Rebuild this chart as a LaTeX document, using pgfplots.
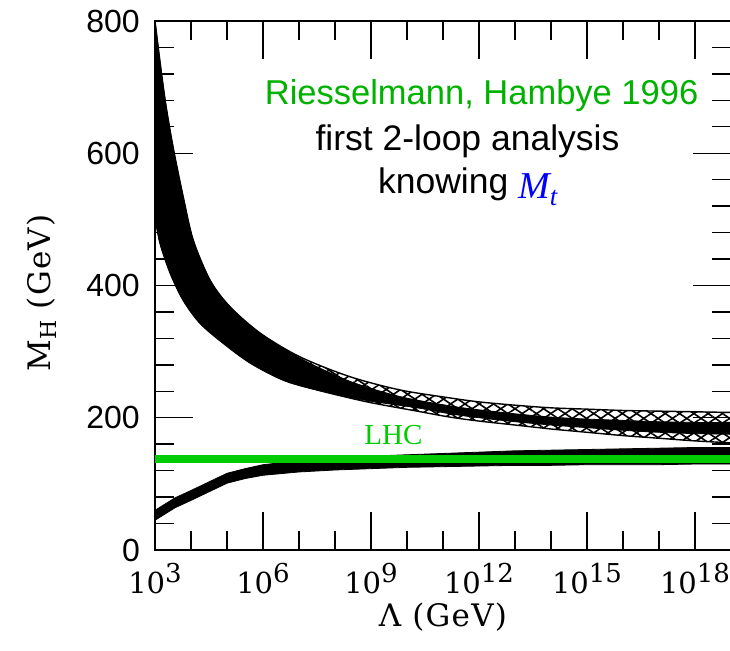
\documentclass[border=0pt]{standalone}
\usepackage{fontspec}
\usepackage{pgfplots}
\pgfplotsset{compat=1.18}
\usepgfplotslibrary{fillbetween}
\usetikzlibrary{patterns.meta}
\usepackage{pgfplotstable}

\newfontfamily\helv{Liberation Sans}
\newfontfamily\tnr{Liberation Serif}
\newfontfamily\tickserif{DejaVu Serif}
\newfontfamily\lblserif[LetterSpace=4]{DejaVu Serif}

\definecolor{riegreen}{RGB}{0,178,0}
\definecolor{lhcgreen}{RGB}{0,204,0}
\definecolor{mtblue}{RGB}{0,0,255}

\newcommand\tenpow[1]{10\raisebox{11pt}{\fontsize{26}{26}\selectfont #1}}

% upper (triviality) bound, upper edge of the hatched band
\pgfplotstableread{
lam        M
1e3        800
1.380e3    738
1.905e3    681
2.630e3    634
3.631e3    593
6.026e3    535
1.148e4    469
3.388e4    408
1.202e5    368
8.318e5    328
1.072e7    292
2.630e8    262
6.457e9    242
1.549e11   230
1e12       224
1e13       219
1e14       215
1e15       213
1e16       211
1e17       210
1e18       209
1e19       208
}\upperU

% upper bound, lower edge of the hatched band
\pgfplotstableread{
lam        M
1e3        504
1.380e3    464
2.630e3    419
6.026e3    378
1.778e4    343
7.762e4    313
4.365e5    283
3.631e6    257
3.162e7    242
7.762e8    224
1.905e10   210
1.549e11   201
1e12       195
1e13       189
1e14       183
1e15       178
1e16       173
1e17       169
1e18       165
1e19       162
}\upperL

% upper bound, solid core: top edge
\pgfplotstableread{
lam        M
1e3        800
1.380e3    738
1.905e3    681
2.630e3    634
3.631e3    593
6.026e3    535
1.148e4    469
3.388e4    408
1.202e5    368
8.318e5    328
1.072e7    290
2.630e8    255
6.457e9    232
1.549e11   218
1e12       212
1e13       206
1e14       201
1e15       198
1e16       196
1e17       194
1e18       193
1e19       193
}\coreT

% upper bound, solid core: bottom edge
\pgfplotstableread{
lam        M
1e3        504
1.380e3    464
2.630e3    419
6.026e3    378
1.778e4    343
7.762e4    313
4.365e5    283
3.631e6    257
3.162e7    242
7.762e8    226
1.905e10   215
1.549e11   206
1e12       200
1e13       194
1e14       189
1e15       185
1e16       181
1e17       178
1e18       176
1e19       175
}\coreB

% lower (vacuum stability) bound
\pgfplotstableread{
lam        top  bot
1e3        60   45
3.631e3    79   64
1e4        90   75
3.162e4    103  88
1e5        116  101
3.162e5    123  108
1e6        129  113
1e7        135  118
1e8        139  121
1e9        142  123
1e10       144  125
1e11       146  126
1e12       148  127
1e13       150  128
1e14       151  128
1e15       152  129
1e16       153  129
1e17       154  129
1e18       155  130
1e19       155  130
}\lowerband

\begin{document}
\begin{tikzpicture}
\begin{axis}[
  at={(0,0)}, anchor=south west,
  scale only axis, width=576pt, height=529pt,
  xmode=log, log basis x=10,
  xmin=1e3, xmax=1e19, ymin=0, ymax=800,
  xtick={1e3,1e6,1e9,1e12,1e15,1e18},
  xticklabels={\tenpow{3},\tenpow{6},\tenpow{9},\tenpow{12},\tenpow{15},\tenpow{18}},
  minor xtick={1e4,1e5,1e7,1e8,1e10,1e11,1e13,1e14,1e16,1e17},
  ytick={0,200,400,600,800},
  minor y tick num=4,
  major tick length=38pt, minor tick length=19pt,
  tick style={black, line width=1.4pt},
  axis line style={line width=1.8pt},
  xticklabel style={font=\tickserif\fontsize{29}{29}\selectfont,
    anchor=base, inner sep=0pt, yshift=-43pt},
  yticklabel style={font=\helv\fontsize{32}{32}\selectfont,
    /pgf/number format/assume math mode=true,
    anchor=east, inner sep=0pt, xshift=-15pt},
  xlabel={Λ (GeV)},
  ylabel={M\raisebox{-6pt}{\fontsize{22}{22}\selectfont H} (GeV)},
  label style={font=\lblserif\fontsize{31}{31}\selectfont, inner sep=0pt},
  xlabel style={at={(axis description cs:0.5,-0.1)}, anchor=north},
  ylabel style={at={(axis description cs:-0.17,0.486)}, anchor=south},
]
% hatched band of the upper bound
\addplot[name path=uo, draw=none, forget plot, smooth] table[x=lam, y=M] {\upperU};
\addplot[name path=lo, draw=none, forget plot, smooth] table[x=lam, y=M] {\upperL};
\addplot[pattern={Lines[angle=34, distance=8pt, line width=1.6pt]}, pattern color=black]
  fill between[of=uo and lo];
\addplot[pattern={Lines[angle=-34, distance=8pt, line width=1.6pt]}, pattern color=black]
  fill between[of=uo and lo];
% solid core
\addplot[name path=ct, draw=none, forget plot, smooth] table[x=lam, y=M] {\coreT};
\addplot[name path=cb, draw=none, forget plot, smooth] table[x=lam, y=M] {\coreB};
\addplot[fill=black, draw=black, line width=0.8pt] fill between[of=ct and cb];
% edges of the hatched band
\addplot[black, line width=1.4pt, smooth] table[x=lam, y=M] {\upperU};
\addplot[black, line width=1.4pt, smooth] table[x=lam, y=M] {\upperL};

% lower bound band
\addplot[name path=lt, draw=none, forget plot] table[x=lam, y=top] {\lowerband};
\addplot[name path=lb, draw=none, forget plot] table[x=lam, y=bot] {\lowerband};
\addplot[fill=black, draw=black, line width=0.8pt] fill between[of=lt and lb];

% LHC reach
\addplot[lhcgreen, line width=8pt] coordinates {(1e3,137) (1e19,137)};

\node[anchor=base, text=lhcgreen, font=\tnr\fontsize{29}{29}\selectfont]
  at (rel axis cs:0.414,0.1985) {LHC};

\node[anchor=base, text=riegreen, font=\helv\fontsize{34.5}{34.5}\selectfont]
  at (rel axis cs:0.567,0.843) {Riesselmann, Hambye 1996};
\node[anchor=base, font=\helv\fontsize{35.5}{35.5}\selectfont]
  at (rel axis cs:0.5425,0.756) {first 2-loop analysis};
\node[anchor=base, font=\helv\fontsize{35.5}{35.5}\selectfont]
  at (rel axis cs:0.543,0.673) {knowing \raisebox{-5pt}{\tnr\itshape\fontsize{38}{38}\selectfont\color{mtblue}M\raisebox{-7pt}{\fontsize{27}{27}\selectfont t}}};
\end{axis}
\pgfresetboundingbox
\path[use as bounding box] (-155pt,-100pt) rectangle (575pt,550pt);
\end{tikzpicture}
\end{document}
